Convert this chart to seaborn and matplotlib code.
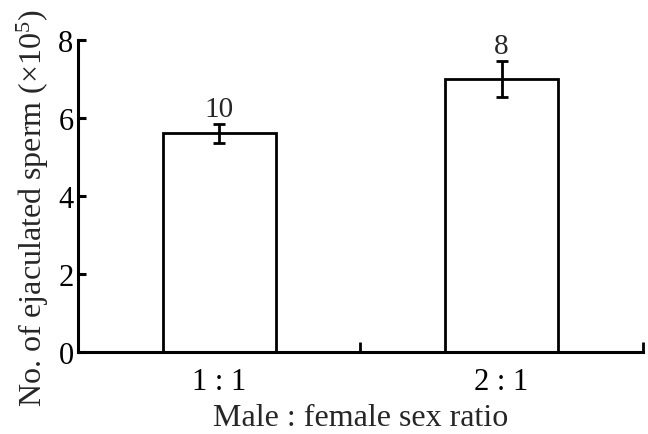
import matplotlib
matplotlib.use("Agg")
import matplotlib.pyplot as plt
import seaborn as sns
import pandas as pd

# Data
categories = ["1 : 1", "2 : 1"]
means = [5.6, 7.0]
errors = [0.25, 0.47]
sample_sizes = ["10", "8"]
y_ticks = [0, 2, 4, 6, 8]

sns.set_style("ticks")
plt.rcParams['font.family'] = ['Liberation Serif', 'DejaVu Serif']
plt.rcParams['mathtext.fontset'] = 'custom'
plt.rcParams['mathtext.rm'] = 'Liberation Serif'
plt.rcParams['mathtext.it'] = 'Liberation Serif:italic'
plt.rcParams['mathtext.bf'] = 'Liberation Serif:bold'

df = pd.DataFrame({"ratio": categories, "mean": means})

fig = plt.figure(figsize=(6.48, 4.35), dpi=100)
ax = fig.add_axes([0.120, 0.189, 0.872, 0.717])

sns.barplot(data=df, x="ratio", y="mean", ax=ax, width=0.4, color="white",
            edgecolor="black", linewidth=2.0, errorbar=None, saturation=1)
ax.errorbar(x=list(range(len(categories))), y=means, yerr=errors, fmt="none",
            ecolor="black", elinewidth=2.0, capsize=4, capthick=2.0)

for i, (m, e, n) in enumerate(zip(means, errors, sample_sizes)):
    ax.text(i, m + e + 0.04, n, ha="center", va="bottom", fontsize=21)

ax.set_xlim(-0.5, 1.5)
ax.set_ylim(0, 8)
ax.set_yticks(y_ticks)
ax.set_xticks([0, 1])
ax.set_xticklabels(categories)
ax.set_xticks([0.5, 1.5], minor=True)

for side in ["top", "right"]:
    ax.spines[side].set_visible(False)
for side in ["left", "bottom"]:
    ax.spines[side].set_linewidth(2.2)
    ax.spines[side].set_color("black")

ax.tick_params(axis="y", direction="in", length=6, width=2.2, labelsize=22, pad=3, colors="black")
ax.tick_params(axis="x", which="major", length=0, labelsize=22, pad=11, colors="black")
ax.tick_params(axis="x", which="minor", direction="in", length=7, width=2.0, colors="black")

ax.set_xlabel("Male : female sex ratio", fontsize=23, labelpad=5)
ax.set_ylabel("No. of ejaculated sperm (×10$^{5}$)", fontsize=23)
ax.yaxis.set_label_coords(-0.047, 0.465)

fig.savefig("out.png", dpi=100, facecolor="white")
